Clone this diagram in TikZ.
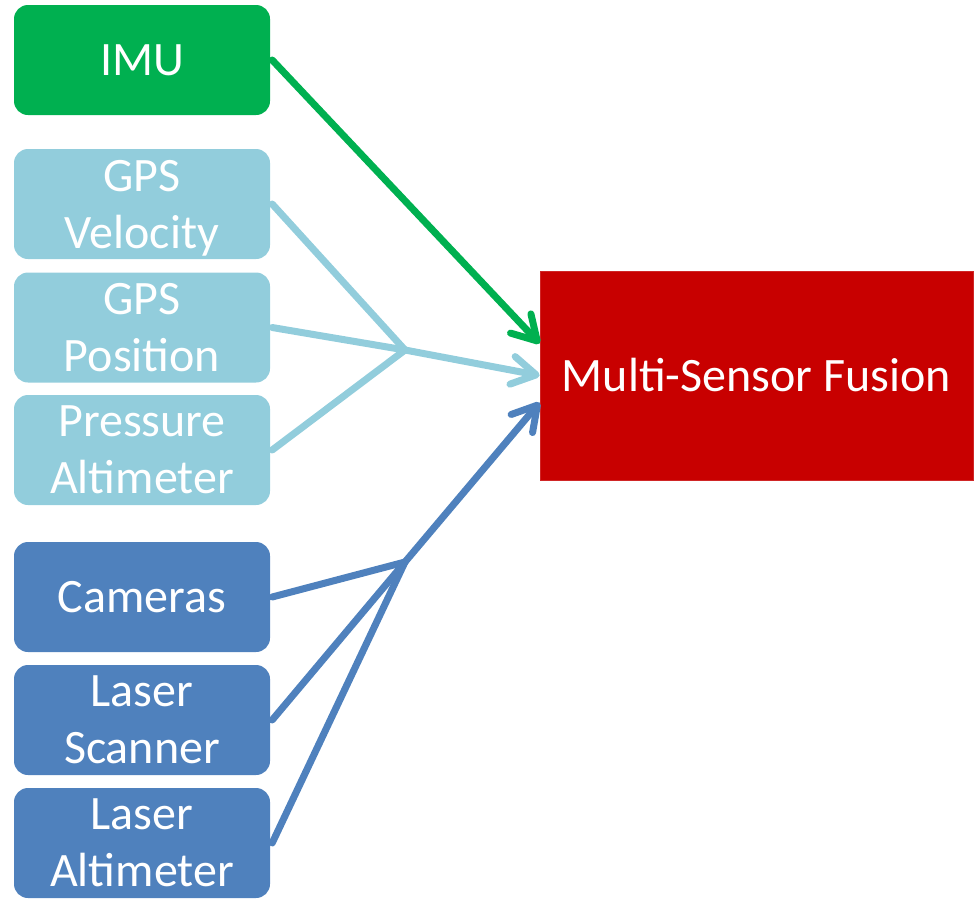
\documentclass[tikz,border=0pt]{standalone}
\usepackage{fontspec}
\setmainfont{Carlito}
\usetikzlibrary{arrows.meta}
\definecolor{cgreen}{HTML}{00B050}
\definecolor{clight}{HTML}{92CDDC}
\definecolor{cblue}{HTML}{4F81BD}
\definecolor{cred}{HTML}{C80000}
\begin{document}
\begin{tikzpicture}[x=1pt,y=-1pt,
  src/.style={rectangle, rounded corners=14pt, text=white, font=\fontsize{48}{57}\selectfont,
    align=center, inner sep=0pt, text depth=0pt, minimum width=256pt, minimum height=110pt},
  conn/.style={line width=7pt, line cap=round, line join=round},
  arr/.style={conn, -{Straight Barb[length=24pt,width=28pt,line cap=round,line join=round]}}]
\useasboundingbox (0,0) rectangle (974,900);
\node[src, fill=cgreen] (imu) at (142,60) {IMU};
\node[src, fill=clight] (gpsv) at (142,204) {GPS\\Velocity};
\node[src, fill=clight] (gpsp) at (142,327.5) {GPS\\Position};
\node[src, fill=clight] (press) at (142,450) {Pressure\\Altimeter};
\node[src, fill=cblue] (cam) at (142,597) {Cameras};
\node[src, fill=cblue] (lscan) at (142,720) {Laser\\Scanner};
\node[src, fill=cblue] (lalt) at (142,843) {Laser\\Altimeter};
\node[rectangle, fill=cred, draw=cred!85!white, line width=0.8pt, minimum width=433pt, minimum height=209pt,
  text=white, font=\fontsize{48}{57}\selectfont, inner sep=0pt] (fusion) at (756.5,375.5) {Multi-Sensor Fusion};
\coordinate (jl) at (405,350);
\coordinate (jb) at (405,562);
\coordinate (tg) at ([yshift=32pt]fusion.west);
\coordinate (tl) at (fusion.west);
\coordinate (tb) at ([yshift=-27pt]fusion.west);
\draw[arr, cgreen] ([xshift=2pt]imu.east) -- (tg);
\draw[conn, clight] ([xshift=2pt]gpsv.east) -- (jl);
\draw[conn, clight] ([xshift=2pt]gpsp.east) -- (jl);
\draw[conn, clight] ([xshift=2pt]press.east) -- (jl);
\draw[arr, clight] (jl) -- (tl);
\draw[conn, cblue] ([xshift=2pt]cam.east) -- (jb);
\draw[conn, cblue] ([xshift=2pt]lscan.east) -- (jb);
\draw[conn, cblue] ([xshift=2pt]lalt.east) -- (jb);
\draw[arr, cblue] (jb) -- (tb);
\end{tikzpicture}
\end{document}
